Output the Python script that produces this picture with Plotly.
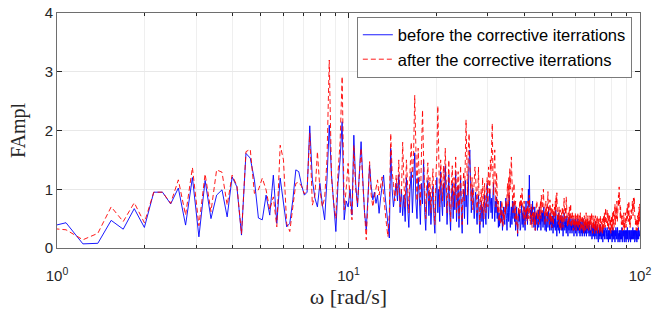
import numpy as np
import plotly.graph_objects as go

# Frequency grid of the spectrum (uniform FFT bins)
OMEGA_STEP = 0.1534   # rad/s
FIRST_BIN = 6

famp_before = [
    # k6-30
    0.35, 0.43, 0.07, 0.08, 0.47, 0.32, 0.67, 0.35, 0.95, 0.95,
    0.75, 1.02, 0.39, 1.20, 0.19, 1.15, 0.50, 0.90, 0.99, 0.53,
    1.21, 1.04, 0.22, 1.61, 1.53,
    # k31-65
    1.16, 0.51, 0.48, 0.90, 0.56, 1.24, 0.42, 1.19, 0.76, 0.36,
    0.42, 0.82, 1.33, 1.30, 1.07, 0.90, 0.95, 2.08, 1.16, 0.85,
    0.70, 1.10, 0.75, 0.48, 1.16, 2.09, 1.24, 0.70, 0.28, 1.10,
    1.50, 2.15, 0.48, 0.80, 0.70,
    # k66-100
    1.0, 0.56, 1.92, 1.1, 0.70, 1.3, 1.81, 1.16, 0.6, 0.31,
    0.9, 1.41, 1.05, 0.82, 0.95, 0.76, 0.9, 0.59, 0.85, 1.05,
    1.24, 0.9, 0.65, 0.45, 0.17, 1.70, 1.0, 0.70, 0.9, 1.10,
    0.8, 1.25, 0.6, 1.0, 0.55,
    # k101-200
    0.9, 0.45, 1.2, 0.7, 0.35, 1.0, 1.3, 0.6, 1.1, 1.62,
    0.8, 0.5, 1.2, 0.9, 0.4, 1.1, 0.75, 1.5, 0.6, 0.3,
    0.85, 1.15, 0.55, 0.95, 0.4, 0.7, 1.05, 0.5, 0.25, 0.9,
    1.2, 0.6, 1.0, 0.45, 1.3, 0.8, 0.55, 1.1, 0.7, 1.4,
    0.9, 0.4, 0.75, 1.25, 0.6, 0.3, 0.85, 1.1, 0.5, 0.95,
    0.65, 1.3, 0.45, 0.8, 1.05, 0.35, 0.7, 1.2, 0.55, 0.25,
    0.8, 1.0, 0.5, 1.15, 0.7, 0.9, 0.4, 1.3, 1.5, 1.67,
    1.1, 0.6, 0.9, 1.02, 0.75, 0.5, 0.8, 0.95, 0.6, 0.4,
    0.7, 0.9, 0.5, 0.25, 0.6, 0.8, 0.45, 0.7, 0.35, 0.55,
    0.9, 0.6, 0.4, 0.75, 1.1, 0.85, 0.5, 0.7, 1.0, 0.8,
    # k201-300
    0.6, 0.85, 0.5, 0.9, 1.1, 0.7, 0.45, 0.8, 0.6, 0.87,
    0.5, 0.7, 0.35, 0.6, 0.37, 0.55, 0.8, 0.45, 0.65, 0.3,
    0.5, 0.7, 0.5, 0.4, 0.65, 0.85, 0.5, 0.3, 0.6, 0.75,
    0.45, 0.9, 0.6, 0.35, 0.55, 0.7, 0.4, 0.8, 0.5, 0.65,
    0.78, 0.45, 0.6, 0.3, 0.55, 0.7, 0.4, 0.2, 0.5, 0.65,
    0.45, 0.6, 0.3, 0.34, 0.55, 0.75, 0.4, 0.6, 0.35, 0.5,
    0.7, 0.45, 0.3, 0.55, 0.8, 0.5, 0.65, 0.4, 0.9, 1.0,
    0.7, 1.24, 0.8, 0.5, 0.65, 0.4, 0.7, 0.55, 0.8, 0.45,
    0.6, 0.35, 0.5, 0.7, 0.3, 0.55, 0.4, 0.6, 0.45, 0.3,
    0.5, 0.65, 0.35, 0.45, 0.7, 0.4, 0.55, 0.3, 0.5, 0.62,
    # k301-440
    0.45, 0.6, 0.35, 0.5, 0.7, 0.4, 0.55, 0.3, 0.45, 0.6,
    0.28, 0.5, 0.4, 0.6, 0.35, 0.5, 0.7, 0.45, 0.3, 0.55,
    0.4, 0.6, 0.3, 0.5, 0.45, 0.34, 0.55, 0.25, 0.4, 0.6,
    0.35, 0.5, 0.45, 0.3, 0.65, 0.4, 0.55, 0.2, 0.45, 0.35,
    0.5, 0.3, 0.6, 0.4, 0.25, 0.45, 0.55, 0.35, 0.5, 0.3,
    0.4, 0.55, 0.3, 0.45, 0.2, 0.5, 0.35, 0.6, 0.4, 0.3,
    0.45, 0.35, 0.5, 0.25, 0.4, 0.55, 0.3, 0.45, 0.2, 0.4,
    0.5, 0.3, 0.4, 0.55, 0.25, 0.45, 0.35, 0.5, 0.3, 0.4,
    0.25, 0.45, 0.35, 0.5, 0.3, 0.4, 0.2, 0.45, 0.35, 0.3,
    0.5, 0.25, 0.4, 0.35, 0.45, 0.2, 0.4, 0.3, 0.5, 0.35,
    0.3, 0.45, 0.25, 0.4, 0.35, 0.2, 0.45, 0.3, 0.4, 0.25,
    0.35, 0.45, 0.2, 0.4, 0.3, 0.5, 0.25, 0.35, 0.4, 0.2,
    0.35, 0.3, 0.45, 0.25, 0.4, 0.3, 0.2, 0.4, 0.35, 0.3,
    0.45, 0.25, 0.35, 0.3, 0.4, 0.2, 0.35, 0.45, 0.25, 0.3,
    # k441-652
    0.3, 0.2, 0.35, 0.25, 0.4, 0.15, 0.3, 0.25, 0.35, 0.2,
    0.3, 0.4, 0.2, 0.25, 0.35, 0.15, 0.3, 0.45, 0.25, 0.2,
    0.35, 0.25, 0.3, 0.15, 0.4, 0.2, 0.3, 0.25, 0.1, 0.3,
    0.25, 0.35, 0.2, 0.3, 0.15, 0.25, 0.4, 0.2, 0.3, 0.25,
    0.15, 0.3, 0.2, 0.35, 0.25, 0.1, 0.3, 0.2, 0.25, 0.35,
    0.2, 0.3, 0.15, 0.25, 0.35, 0.2, 0.3, 0.25, 0.15, 0.3,
    0.25, 0.2, 0.35, 0.15, 0.3, 0.2, 0.25, 0.1, 0.3, 0.2,
    0.3, 0.15, 0.25, 0.35, 0.2, 0.3, 0.15, 0.25, 0.2, 0.3,
    0.2, 0.25, 0.1, 0.3, 0.2, 0.35, 0.15, 0.25, 0.3, 0.2,
    0.15, 0.3, 0.2, 0.25, 0.1, 0.3, 0.25, 0.2, 0.35, 0.15,
    0.25, 0.2, 0.3, 0.15, 0.25, 0.35, 0.2, 0.1, 0.3, 0.2,
    0.25, 0.15, 0.3, 0.2, 0.25, 0.1, 0.3, 0.2, 0.15, 0.25,
    0.3, 0.2, 0.15, 0.25, 0.35, 0.2, 0.1, 0.25, 0.3, 0.15,
    0.2, 0.3, 0.15, 0.25, 0.2, 0.1, 0.3, 0.25, 0.2, 0.15,
    0.3, 0.2, 0.25, 0.1, 0.2, 0.3, 0.15, 0.25, 0.2, 0.35,
    0.15, 0.25, 0.2, 0.3, 0.1, 0.2, 0.25, 0.15, 0.3, 0.2,
    0.25, 0.15, 0.3, 0.2, 0.1, 0.25, 0.2, 0.3, 0.15, 0.25,
    0.2, 0.3, 0.15, 0.25, 0.2, 0.35, 0.15, 0.25, 0.2, 0.3,
    0.15, 0.25, 0.2, 0.3, 0.1, 0.25, 0.2, 0.15, 0.3, 0.2,
    0.25, 0.15, 0.3, 0.2, 0.25, 0.1, 0.3, 0.2, 0.25, 0.15,
    0.3, 0.2, 0.25, 0.35, 0.15, 0.3, 0.2, 0.25, 0.3, 0.2,
    0.25, 0.3,
]

famp_after = [
    # k6-30
    0.34, 0.31, 0.14, 0.25, 0.70, 0.45, 0.77, 0.43, 0.95, 0.95,
    0.76, 1.16, 0.56, 1.37, 0.38, 1.26, 0.62, 1.33, 1.29, 0.73,
    1.24, 1.06, 0.24, 1.64, 1.68,
    # k31-65
    0.93, 0.99, 1.19, 0.99, 0.65, 0.87, 0.36, 1.75, 1.50, 0.42,
    0.28, 0.70, 1.10, 1.12, 1.05, 0.92, 1.0, 1.95, 0.73, 0.90,
    1.64, 1.0, 0.70, 0.85, 1.50, 3.20, 1.20, 0.76, 0.50, 1.28,
    1.80, 2.92, 0.65, 1.0, 1.44,
    # k66-100
    0.8, 0.48, 1.75, 1.0, 0.76, 1.2, 1.70, 1.10, 0.5, 0.14,
    0.8, 1.47, 0.9, 0.70, 0.87, 1.0, 1.16, 0.9, 1.05, 1.21,
    0.9, 0.59, 0.4, 0.19, 0.6, 1.95, 1.3, 1.1, 0.8, 1.24,
    0.9, 1.5, 0.7, 0.9, 1.8,
    # k101-200
    1.1, 0.7, 1.5, 0.9, 0.6, 1.3, 1.8, 1.2, 1.6, 2.6,
    1.4, 0.8, 1.7, 1.3, 0.7, 1.6, 2.35, 1.5, 0.9, 0.5,
    1.1, 1.45, 0.8, 1.2, 0.6, 1.0, 1.35, 0.7, 0.4, 1.2,
    1.6, 2.42, 1.3, 0.7, 1.5, 1.1, 0.8, 1.4, 1.0, 1.7,
    1.2, 0.6, 1.0, 1.5, 0.8, 0.45, 1.1, 1.4, 0.7, 1.2,
    0.9, 1.55, 0.6, 1.0, 1.3, 0.5, 0.9, 1.4, 0.75, 0.4,
    1.0, 1.3, 0.8, 1.6, 2.18, 1.5, 0.9, 1.7, 1.95, 1.4,
    1.0, 0.8, 1.2, 0.65, 0.9, 1.1, 1.38, 1.2, 0.8, 0.6,
    0.9, 1.38, 0.7, 0.4, 0.8, 1.0, 0.6, 1.2, 0.9, 0.5,
    1.1, 0.8, 0.6, 1.0, 1.2, 0.7, 1.38, 1.2, 0.9, 1.5,
    # k201-300
    1.3, 1.8, 2.12, 1.2, 0.9, 1.4, 1.67, 1.0, 0.7, 1.28,
    0.9, 0.6, 0.8, 0.45, 0.53, 0.7, 0.4, 0.6, 0.8, 0.5,
    0.36, 0.6, 0.45, 0.7, 0.55, 0.8, 0.65, 0.9, 1.1, 0.7,
    1.2, 0.8, 1.35, 1.0, 1.45, 1.55, 1.2, 0.8, 0.6, 0.9,
    1.1, 0.7, 0.5, 0.8, 0.4, 0.6, 0.35, 0.25, 0.5, 0.7,
    0.55, 0.8, 0.6, 0.9, 0.7, 0.85, 1.02, 0.75, 0.5, 0.65,
    0.8, 0.5, 0.4, 0.65, 0.55, 0.7, 0.45, 0.6, 0.8, 0.5,
    0.65, 0.9, 0.55, 0.4, 0.6, 0.75, 0.5, 0.35, 0.6, 0.45,
    0.7, 0.55, 0.4, 0.6, 0.3, 0.5, 0.65, 0.8, 0.77, 0.5,
    0.6, 0.4, 0.55, 0.7, 0.45, 0.6, 0.8, 0.5, 0.9, 0.7,
    # k301-440
    0.6, 0.8, 0.7, 1.0, 0.75, 0.5, 0.65, 0.4, 0.6, 0.8,
    0.55, 0.7, 0.45, 0.85, 0.96, 0.7, 0.5, 0.6, 0.4, 0.82,
    0.6, 0.45, 0.7, 0.55, 0.35, 0.6, 0.75, 0.5, 0.4, 0.65,
    0.5, 0.7, 0.6, 0.8, 0.55, 0.9, 0.7, 0.94, 0.6, 0.45,
    0.6, 0.4, 0.55, 0.7, 0.35, 0.5, 0.65, 0.45, 0.3, 0.55,
    0.6, 0.4, 0.7, 0.5, 0.35, 0.6, 0.75, 0.85, 0.6, 0.45,
    0.55, 0.7, 0.5, 0.87, 0.65, 0.45, 0.6, 0.35, 0.5, 0.4,
    0.6, 0.45, 0.7, 0.55, 0.4, 0.6, 0.75, 0.5, 0.35, 0.55,
    0.45, 0.6, 0.4, 0.5, 0.3, 0.55, 0.45, 0.35, 0.5, 0.4,
    0.6, 0.45, 0.3, 0.5, 0.4, 0.55, 0.35, 0.45, 0.6, 0.4,
    0.35, 0.5, 0.4, 0.55, 0.3, 0.45, 0.6, 0.4, 0.3, 0.5,
    0.45, 0.35, 0.55, 0.4, 0.3, 0.5, 0.45, 0.25, 0.4, 0.55,
    0.35, 0.45, 0.3, 0.5, 0.4, 0.6, 0.35, 0.45, 0.3, 0.5,
    0.4, 0.55, 0.35, 0.45, 0.3, 0.5, 0.4, 0.35, 0.55, 0.45,
    # k441-652
    0.4, 0.55, 0.3, 0.45, 0.6, 0.35, 0.5, 0.25, 0.4, 0.55,
    0.35, 0.45, 0.3, 0.5, 0.4, 0.25, 0.45, 0.55, 0.3, 0.4,
    0.5, 0.3, 0.45, 0.35, 0.55, 0.25, 0.4, 0.5, 0.3, 0.45,
    0.35, 0.5, 0.25, 0.4, 0.3, 0.45, 0.55, 0.35, 0.25, 0.4,
    0.3, 0.45, 0.35, 0.5, 0.25, 0.4, 0.3, 0.45, 0.55, 0.35,
    0.45, 0.6, 0.4, 0.5, 0.35, 0.55, 0.68, 0.5, 0.45, 0.6,
    0.4, 0.55, 0.65, 0.45, 0.35, 0.5, 0.6, 0.4, 0.3, 0.5,
    0.45, 0.35, 0.55, 0.4, 0.3, 0.5, 0.45, 0.25, 0.4, 0.55,
    0.35, 0.5, 0.3, 0.45, 0.6, 0.4, 0.3, 0.5, 0.65, 0.45,
    0.35, 0.55, 0.4, 0.6, 0.75, 0.5, 0.4, 0.65, 0.55, 0.7,
    0.5, 0.6, 0.8, 0.55, 0.45, 0.7, 0.85, 0.6, 0.75, 0.9,
    0.7, 0.8, 1.04, 0.75, 0.6, 0.85, 0.65, 0.5, 0.7, 0.55,
    0.45, 0.6, 0.4, 0.55, 0.35, 0.5, 0.45, 0.3, 0.55, 0.4,
    0.5, 0.35, 0.45, 0.6, 0.4, 0.3, 0.5, 0.45, 0.35, 0.55,
    0.4, 0.6, 0.5, 0.35, 0.45, 0.55, 0.65, 0.45, 0.7, 0.5,
    0.6, 0.75, 0.55, 0.45, 0.65, 0.5, 0.8, 0.6, 0.45, 0.55,
    0.4, 0.5, 0.35, 0.45, 0.6, 0.4, 0.55, 0.65, 0.5, 0.7,
    0.55, 0.75, 0.6, 0.8, 0.65, 0.7, 0.55, 0.75, 0.85, 0.6,
    0.7, 0.8, 0.87, 0.65, 0.5, 0.6, 0.45, 0.55, 0.4, 0.5,
    0.35, 0.45, 0.3, 0.4, 0.5, 0.35, 0.45, 0.3, 0.4, 0.55,
    0.45, 0.35, 0.5, 0.6, 0.4, 0.55, 0.7, 0.5, 0.45, 0.6,
    0.75, 0.55,
]

series_names = ["before the corrective iterrations", "after the corrective iterrations"]
x_tick_values = [1, 10, 100]
x_tick_text = ["10<sup>0</sup>", "10<sup>1</sup>", "10<sup>2</sup>"]
x_minor_values = [2, 3, 4, 5, 6, 7, 8, 9, 20, 30, 40, 50, 60, 70, 80, 90]
y_tick_values = [0, 1, 2, 3, 4]

omega_before = OMEGA_STEP * (FIRST_BIN + np.arange(len(famp_before)))
omega_after = OMEGA_STEP * (FIRST_BIN + np.arange(len(famp_after)))

AX = "#262626"
fig = go.Figure()
fig.add_trace(go.Scatter(x=omega_before, y=famp_before, mode="lines", name=series_names[0],
                         line=dict(color="#0000ff", width=0.9)))
fig.add_trace(go.Scatter(x=omega_after, y=famp_after, mode="lines", name=series_names[1],
                         line=dict(color="#ff0000", width=0.9, dash="5px,3px")))

fig.update_layout(
    width=652, height=311,
    margin=dict(l=57, r=12, t=13, b=63, pad=0),
    paper_bgcolor="white", plot_bgcolor="white",
    font=dict(family="Liberation Sans, Arial, sans-serif", size=14, color=AX),
    showlegend=True,
    legend=dict(x=0.986, y=0.985, xanchor="right", yanchor="top", bgcolor="white",
                bordercolor="#7a7a7a", borderwidth=1, font=dict(size=16.5, color="#000"),
                tracegroupgap=0, itemwidth=30),
)
fig.update_xaxes(
    type="log", range=[0, 2], tickmode="array", tickvals=x_tick_values, ticktext=x_tick_text,
    ticks="inside", ticklen=5, tickcolor=AX, showline=True, linecolor="#6e6e6e", linewidth=1,
    mirror="ticks", showgrid=True, gridcolor="#e8e8e8", gridwidth=1, zeroline=False,
    minor=dict(tickmode="array", tickvals=x_minor_values, ticks="inside", ticklen=3,
               tickcolor=AX, showgrid=True, gridcolor="#efefef", gridwidth=1),
    tickfont=dict(size=15), ticklabelstandoff=14, automargin=False, ticklabeloverflow="allow",
    title=dict(text="ω [rad/s]", font=dict(family="Liberation Serif, serif", size=22, color=AX), standoff=3),
)
fig.update_yaxes(
    range=[0, 4], tickmode="array", tickvals=y_tick_values,
    ticks="inside", ticklen=5, tickcolor=AX, showline=True, linecolor="#6e6e6e", linewidth=1,
    mirror="ticks", showgrid=True, gridcolor="#e8e8e8", gridwidth=1, zeroline=False,
    tickfont=dict(size=15), automargin=False, ticklabeloverflow="allow",
    title=dict(text="FAmpl", font=dict(family="Liberation Serif, serif", size=20, color=AX), standoff=13),
)

# remove the page's default 8px body margin so the figure sits at the window's corner
fig.write_html("out.html", config={"displayModeBar": False},
               post_script="document.body.style.margin='0';")
